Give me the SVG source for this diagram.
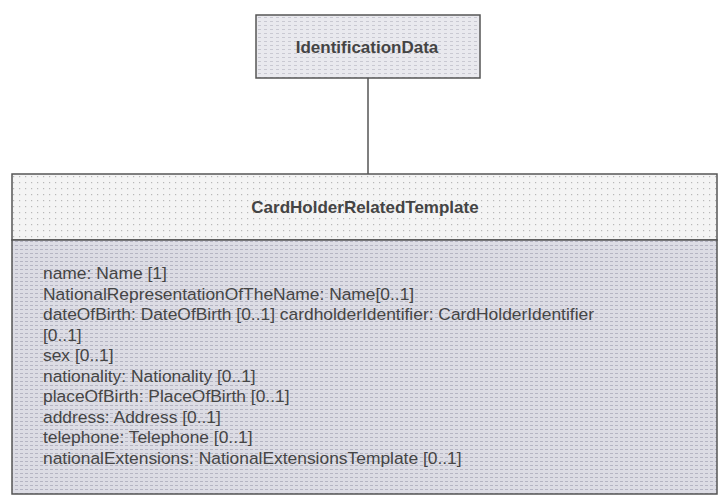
<svg xmlns="http://www.w3.org/2000/svg" width="720" height="497" viewBox="0 0 720 497">
<defs>
<pattern id="texTop" width="6" height="4" patternUnits="userSpaceOnUse">
<rect width="6" height="4" fill="#e9e9ee"/>
<rect x="0" y="1" width="3" height="1" fill="#c9c9d2"/>
</pattern>
<pattern id="texHead" width="6" height="6" patternUnits="userSpaceOnUse">
<rect width="6" height="6" fill="#f4f4f4"/>
<rect x="1" y="2" width="1.2" height="1.2" fill="#b8b8b8"/>
</pattern>
<pattern id="texBody" width="5" height="4" patternUnits="userSpaceOnUse">
<rect width="5" height="4" fill="#dcdce4"/>
<rect x="0" y="1" width="3" height="1" fill="#b5b5c3"/>
</pattern>
<style>
.box{stroke:#555;stroke-width:1.5}
.title{font-family:"Liberation Sans",Arial,sans-serif;font-weight:bold;font-size:17px;fill:#444;text-anchor:middle}
.attr{font-family:"Liberation Sans",Arial,sans-serif;font-size:17.4px;fill:#454545}
.conn{stroke:#555;stroke-width:1.5;fill:none}
</style>
</defs>
<rect width="720" height="497" fill="#ffffff"/>
<g id="connectors">
<line class="conn" x1="368" y1="78" x2="368" y2="174"/>
</g>
<g id="IdentificationData">
<rect class="box" x="256" y="15" width="224" height="63" fill="url(#texTop)"/>
<text class="title" x="367" y="53">IdentificationData</text>
</g>
<g id="CardHolderRelatedTemplate">
<rect class="box" x="12" y="174" width="705" height="66" fill="url(#texHead)"/>
<rect class="box" x="12" y="240" width="705" height="254" fill="url(#texBody)"/>
<text class="title" x="365" y="213">CardHolderRelatedTemplate</text>
<text class="attr" x="43" y="279">name: Name [1]</text>
<text class="attr" x="43" y="299.5">NationalRepresentationOfTheName: Name[0..1]</text>
<text class="attr" x="43" y="320">dateOfBirth: DateOfBirth [0..1] cardholderIdentifier: CardHolderIdentifier</text>
<text class="attr" x="43" y="340.5">[0..1]</text>
<text class="attr" x="43" y="361">sex [0..1]</text>
<text class="attr" x="43" y="381.5">nationality: Nationality [0..1]</text>
<text class="attr" x="43" y="402">placeOfBirth: PlaceOfBirth [0..1]</text>
<text class="attr" x="43" y="422.5">address: Address [0..1]</text>
<text class="attr" x="43" y="443">telephone: Telephone [0..1]</text>
<text class="attr" x="43" y="463.5">nationalExtensions: NationalExtensionsTemplate [0..1]</text>
</g>
</svg>
